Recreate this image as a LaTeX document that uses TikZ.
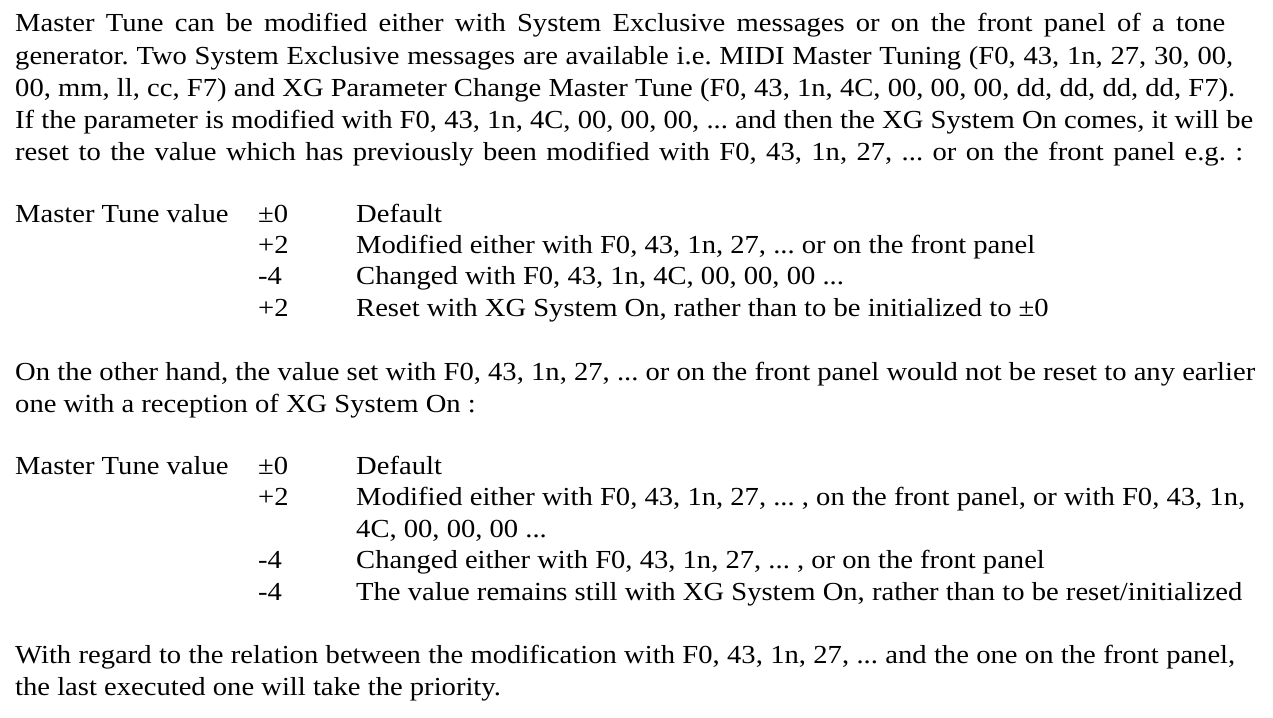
\documentclass[tikz,border=0pt]{standalone}
\usepackage{fontspec}
\setmainfont{Liberation Serif}[FakeStretch=1.1]
\frenchspacing
\newcommand\fullline[2]{\makebox[#1pt][s]{#2}}
\begin{document}
\begin{tikzpicture}[x=1pt,y=1pt,every node/.style={anchor=base west,inner sep=0pt,font=\fontsize{26}{30}\selectfont}]
    \useasboundingbox (0,0) rectangle (1273,-717);

    \node (p1) at (15,-32) {\fullline{1210}{Master Tune can be modified either with System Exclusive messages or on the front panel of a tone}};
    \node (p2) at (15,-64) {\fullline{1218}{generator. Two System Exclusive messages are available i.e. MIDI Master Tuning (F0, 43, 1n, 27, 30, 00,}};
    \node (p3) at (15,-96) {\fullline{1220}{00, mm, ll, cc, F7) and XG Parameter Change Master Tune (F0, 43, 1n, 4C, 00, 00, 00, dd, dd, dd, dd, F7).}};
    \node (p4) at (15,-128) {\fullline{1238}{If the parameter is modified with F0, 43, 1n, 4C, 00, 00, 00, ... and then the XG System On comes, it will be}};
    \node (p5) at (15,-160) {\fullline{1228}{reset to the value which has previously been modified with F0, 43, 1n, 27, ... or on the front panel e.g. :}};

    \node (ta) at (15,-222) {Master Tune value};
    \node (ta1) at (258,-222) {±0};
    \node (ta2) at (258,-253) {+2};
    \node (ta3) at (258,-284) {-4};
    \node (ta4) at (258,-316) {+2};
    \node (tb1) at (356,-222) {Default};
    \node (tb2) at (356,-253) {Modified either with F0, 43, 1n, 27, ... or on the front panel};
    \node (tb3) at (356,-284) {Changed with F0, 43, 1n, 4C, 00, 00, 00 ...};
    \node (tb4) at (356,-316) {Reset with XG System On, rather than to be initialized to ±0};

    \node (q1) at (15,-380) {\fullline{1240}{On the other hand, the value set with F0, 43, 1n, 27, ... or on the front panel would not be reset to any earlier}};
    \node (q2) at (15,-412) {one with a reception of XG System On :};

    \node (ua) at (15,-474) {Master Tune value};
    \node (ua1) at (258,-474) {±0};
    \node (ua2) at (258,-505) {+2};
    \node (ua3) at (258,-568) {-4};
    \node (ua4) at (258,-600) {-4};
    \node (ub1) at (356,-474) {Default};
    \node (ub2) at (356,-505) {\fullline{889}{Modified either with F0, 43, 1n, 27, ... , on the front panel, or with F0, 43, 1n,}};
    \node (ub2b) at (356,-537) {4C, 00, 00, 00 ...};
    \node (ub3) at (356,-568) {Changed either with F0, 43, 1n, 27, ... , or on the front panel};
    \node (ub4) at (356,-600) {\fullline{886}{The value remains still with XG System On, rather than to be reset/initialized}};

    \node (r1) at (15,-663) {\fullline{1220}{With regard to the relation between the modification with F0, 43, 1n, 27, ... and the one on the front panel,}};
    \node (r2) at (15,-695) {the last executed one will take the priority.};
\end{tikzpicture}
\end{document}
